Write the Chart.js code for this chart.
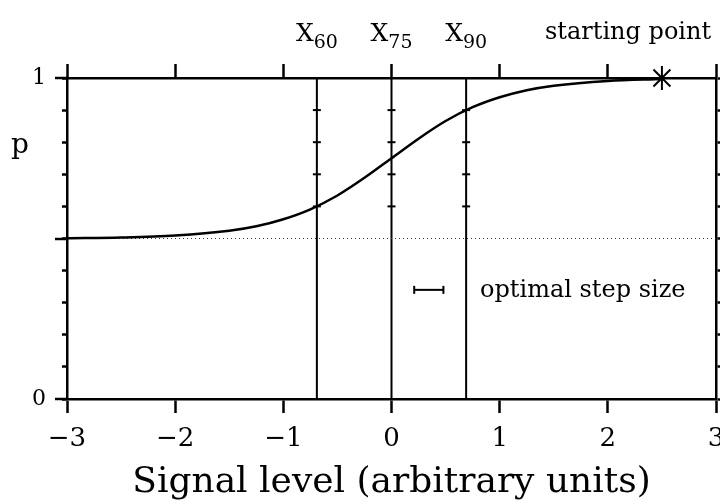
<!DOCTYPE html>
<html><head><meta charset="utf-8">
<script src="https://cdn.jsdelivr.net/npm/chart.js@4.4.0/dist/chart.umd.min.js"></script>
<style>html,body{margin:0;padding:0;background:#fff}#c{display:block}</style>
</head><body>
<canvas id="c" width="720" height="504"></canvas>
<script>
// ---- data ----
const curveX = [-3, -2.5, -2, -1.5, -1.25, -1, -0.75, -0.5, -0.25, 0, 0.25, 0.5, 0.75, 1, 1.25, 1.5, 2, 2.5];
const curveP = [0.501, 0.503, 0.509, 0.524, 0.538, 0.56, 0.591, 0.634, 0.689, 0.75, 0.811, 0.866, 0.909, 0.94, 0.962, 0.976, 0.991, 0.997];
const xTickValues = [-3, -2, -1, 0, 1, 2, 3];
const yTickValues = [0, 0.1, 0.2, 0.3, 0.4, 0.5, 0.6, 0.7, 0.8, 0.9, 1];
const yTickLabels = ['0', '', '', '', '', '', '', '', '', '', '1'];
const yMajorTicks = [0, 0.5, 1];
const thresholdX = [-0.69, 0, 0.69];
const thresholdNames = ['60', '75', '90'];
const thresholdTickP = [0.6, 0.7, 0.8, 0.9];
const chanceLevel = 0.5;
const startPoint = [2.5, 1];
const stepBar = [0.21, 0.48];
const stepBarP = 0.34;

const SERIF = "'DejaVu Serif'";
const fmt = v => (v < 0 ? '\u2212' + Math.abs(v) : String(v));

const datasets = [
  { data: curveX.map((x, i) => ({ x, y: curveP[i] })), showLine: true, borderColor: '#000', borderWidth: 2.5,
    pointRadius: 0, cubicInterpolationMode: 'monotone' },
  { data: [{ x: -3, y: chanceLevel }, { x: 3, y: chanceLevel }], showLine: true, borderColor: '#333',
    borderWidth: 1, borderDash: [1, 3], pointRadius: 0 },
  ...thresholdX.map(tx => ({
    data: [{ x: tx, y: 0 }, ...thresholdTickP.map(p => ({ x: tx, y: p })), { x: tx, y: 1 }],
    showLine: true, borderColor: '#000', borderWidth: 2,
    pointStyle: 'line', pointBorderColor: '#000', pointBorderWidth: 2,
    pointRadius: c => (c.dataIndex === 0 || c.dataIndex === thresholdTickP.length + 1) ? 0 : 4
  })),
  { data: stepBar.map(x => ({ x, y: stepBarP })), showLine: true, borderColor: '#000', borderWidth: 2,
    pointStyle: 'line', rotation: 90, pointRadius: 4, pointBorderColor: '#000', pointBorderWidth: 2 },
  { data: [{ x: startPoint[0], y: startPoint[1] }], showLine: false, pointStyle: 'star', pointRadius: 12,
    pointBorderColor: '#000', pointBorderWidth: 2, clip: false }
];

const textPlugin = {
  id: 'texts',
  afterDraw(chart) {
    const { ctx, scales } = chart;
    const xs = scales.x, ys = scales.y;
    ctx.save();
    // long ticks on the left axis
    ctx.strokeStyle = '#000'; ctx.lineWidth = 2.5;
    yMajorTicks.forEach(v => {
      const py = Math.round(ys.getPixelForValue(v));
      ctx.beginPath(); ctx.moveTo(xs.left - 12, py); ctx.lineTo(xs.left, py); ctx.stroke();
    });
    ctx.fillStyle = '#000';
    ctx.textBaseline = 'alphabetic';
    // p label
    ctx.font = '28px ' + SERIF; ctx.textAlign = 'center';
    ctx.fillText('p', 20, 153);
    // threshold labels
    thresholdX.forEach((tx, i) => {
      const px = xs.getPixelForValue(tx);
      ctx.font = '25px ' + SERIF;
      const wX = ctx.measureText('X').width;
      ctx.font = '19px ' + SERIF;
      const wS = ctx.measureText(thresholdNames[i]).width;
      const x0 = px - (wX + wS) / 2;
      ctx.textAlign = 'left';
      ctx.font = '25px ' + SERIF; ctx.fillText('X', x0, 41);
      ctx.font = '19px ' + SERIF; ctx.fillText(thresholdNames[i], x0 + wX, 48);
    });
    ctx.font = '24px ' + SERIF; ctx.textAlign = 'left';
    ctx.fillText('starting point', 545, 39);
    ctx.fillText('optimal step size', 480, 297);
    ctx.restore();
  }
};

new Chart(document.getElementById('c'), {
  type: 'scatter',
  data: { datasets },
  options: {
    responsive: false, animation: false, devicePixelRatio: 1, events: [],
    layout: { padding: 0, autoPadding: false },
    plugins: { legend: { display: false }, tooltip: { enabled: false } },
    scales: {
      x: {
        type: 'linear', position: 'bottom', min: -3, max: 3,
        afterBuildTicks: s => { s.ticks = xTickValues.map(v => ({ value: v })); },
        ticks: { font: { family: SERIF, size: 26 }, color: '#000', padding: 11, maxRotation: 0, autoSkip: false,
                 callback: v => fmt(v) },
        grid: { drawOnChartArea: false, tickLength: 14, tickWidth: 2.5, tickColor: '#000' },
        border: { color: '#000', width: 2.5 },
        title: { display: true, text: 'Signal level (arbitrary units)', color: '#000',
                 font: { family: SERIF, size: 36, lineHeight: 1.2 }, padding: { top: 0, bottom: 0 } },
        afterFit: s => { s.height = 105; s.paddingLeft = 0; s.paddingRight = 0; }
      },
      x2: {
        type: 'linear', position: 'top', min: -3, max: 3,
        afterBuildTicks: s => { s.ticks = xTickValues.map(v => ({ value: v })); },
        ticks: { display: false },
        grid: { drawOnChartArea: false, tickLength: 14, tickWidth: 2.5, tickColor: '#000' },
        border: { color: '#000', width: 2.5 },
        afterFit: s => { s.height = 78; s.paddingLeft = 0; s.paddingRight = 0; }
      },
      y: {
        type: 'linear', position: 'left', min: 0, max: 1,
        afterBuildTicks: s => { s.ticks = yTickValues.map(v => ({ value: v })); },
        ticks: { font: { family: SERIF, size: 22 }, color: '#000', padding: 16, autoSkip: false,
                 callback: (v, i) => yTickLabels[i] },
        grid: { drawOnChartArea: false, tickLength: 5, tickWidth: 2.5, tickColor: '#000' },
        border: { color: '#000', width: 2.5 },
        afterFit: s => { s.width = 67; s.paddingTop = 0; s.paddingBottom = 0; }
      },
      y2: {
        type: 'linear', position: 'right', min: 0, max: 1,
        afterBuildTicks: s => { s.ticks = yTickValues.map(v => ({ value: v })); },
        ticks: { display: false },
        grid: { drawOnChartArea: false, tickLength: 5, tickWidth: 2.5, tickColor: '#000' },
        border: { color: '#000', width: 2.5 },
        afterFit: s => { s.width = 4; s.paddingTop = 0; s.paddingBottom = 0; }
      }
    }
  },
  plugins: [textPlugin]
});
</script>
</body></html>
